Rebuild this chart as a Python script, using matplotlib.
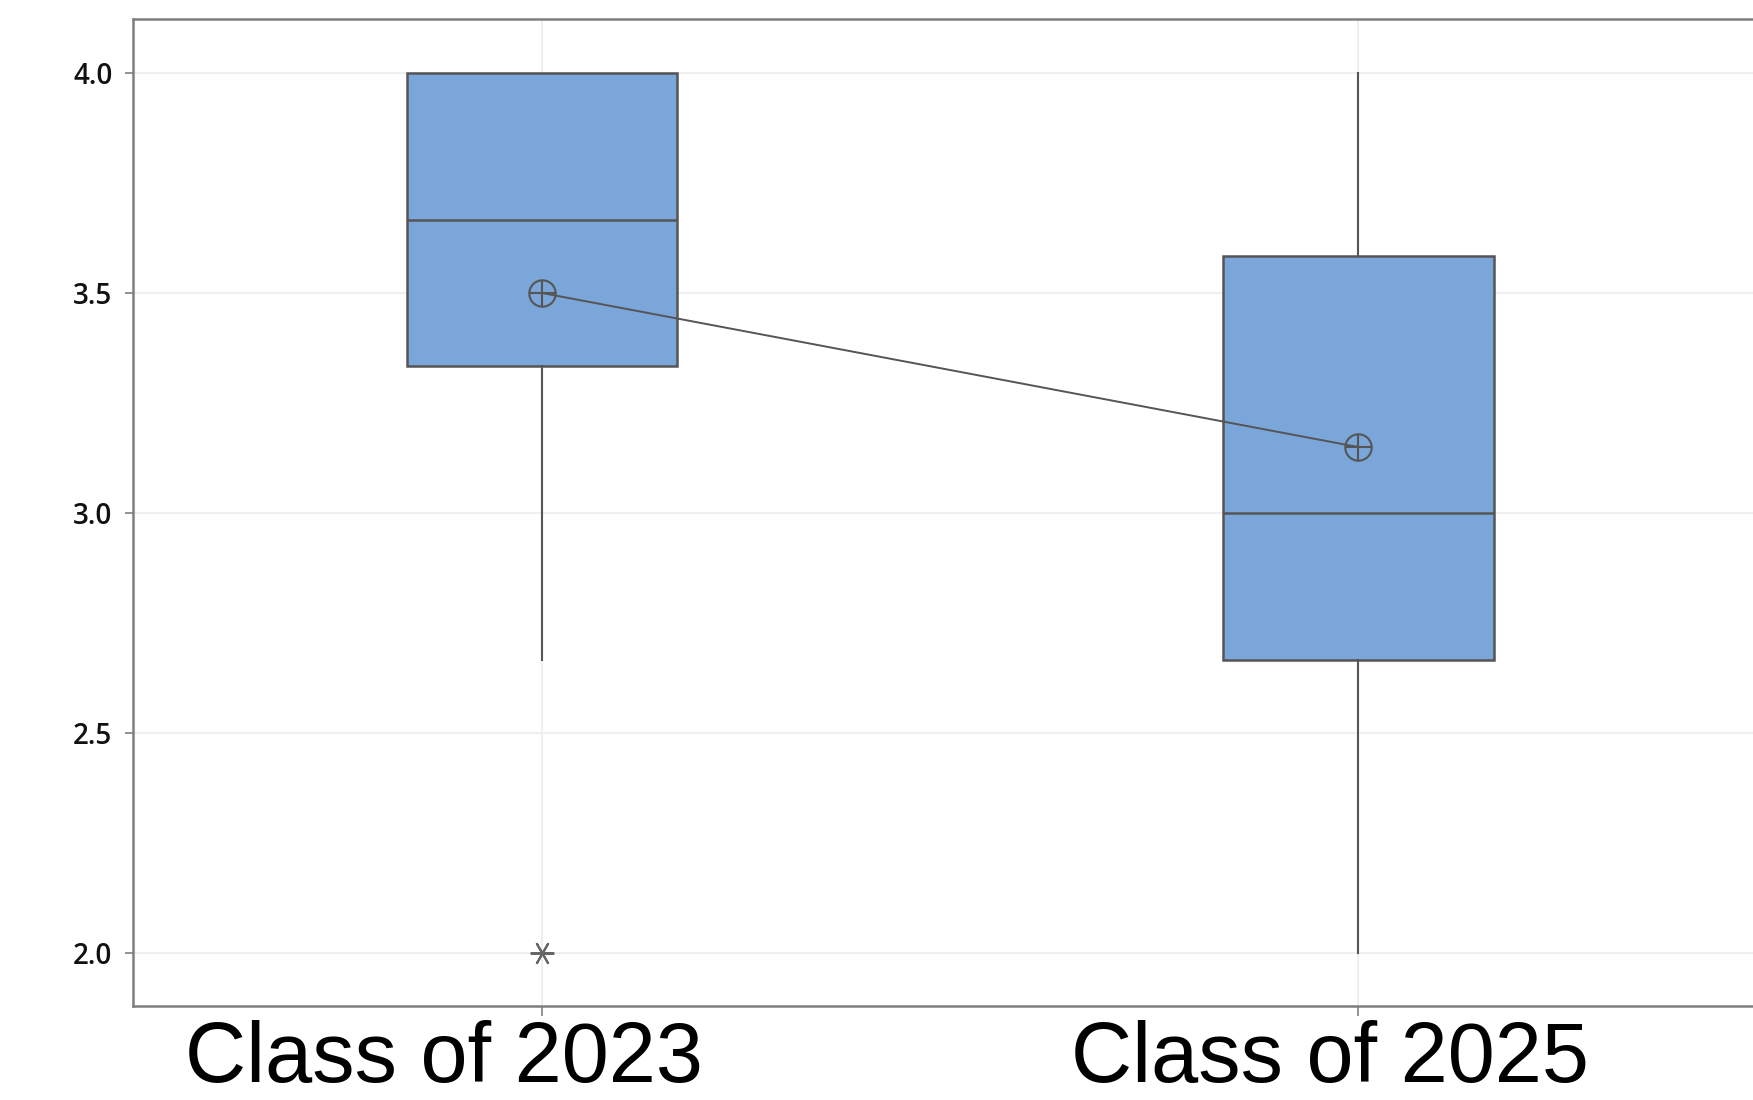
import matplotlib
matplotlib.use("Agg")
import matplotlib.pyplot as plt
import matplotlib.transforms as mtransforms
import numpy as np

# box plot summary
groups = ["Class of 2023", "Class of 2025"]
q1 = [3.333, 2.667]
median = [3.667, 3.0]
q3 = [4.0, 3.583]
whisker_low = [2.667, 2.0]
whisker_high = [4.0, 4.0]
means = [3.5, 3.15]
outliers = [[2.0], []]
y_ticks = [2.0, 2.5, 3.0, 3.5, 4.0]

box_face = "#7ba6d9"
line_col = "#555555"
spine_col = "#7f7f7f"
grid_col = "#efefef"

fig = plt.figure(figsize=(17.53, 11), dpi=100)
ax = fig.add_axes([0.0756, 0.08545, 0.9244, 0.89727])

positions = np.arange(len(groups))
stats = []
for i in range(len(groups)):
    stats.append({
        "med": median[i], "q1": q1[i], "q3": q3[i],
        "whislo": whisker_low[i], "whishi": whisker_high[i],
        "fliers": outliers[i], "label": groups[i],
    })

ax.bxp(stats, positions=positions, widths=0.332, patch_artist=True,
       showcaps=False, showfliers=True,
       boxprops=dict(facecolor=box_face, edgecolor=line_col, linewidth=1.8),
       medianprops=dict(color=line_col, linewidth=1.8),
       whiskerprops=dict(color=line_col, linewidth=1.5),
       flierprops=dict(marker=(6, 2, 90), markersize=17, markeredgecolor="#666666",
                       markeredgewidth=1.5, linestyle="none"),
       zorder=3)

# mean connect line with circled-plus symbol
ax.plot(positions, means, color=line_col, linewidth=1.4, zorder=4)
ax.plot(positions, means, linestyle="none", marker="o", markersize=19,
        markerfacecolor="none", markeredgecolor=line_col, markeredgewidth=1.5, zorder=5)
ax.plot(positions, means, linestyle="none", marker="+", markersize=19,
        markeredgecolor=line_col, markeredgewidth=1.5, zorder=5)

ax.set_xlim(-0.5018, 1.484)
ax.set_ylim(1.8795, 4.1227)
ax.set_yticks(y_ticks)
ax.set_yticklabels(["%.1f" % v for v in y_ticks])
ax.set_xticks(positions)
ax.set_xticklabels([])

ax.grid(True, color=grid_col, linewidth=1.5, zorder=0)
ax.set_axisbelow(True)

for side in ["left", "top", "bottom"]:
    ax.spines[side].set_color(spine_col)
    ax.spines[side].set_linewidth(1.8)
ax.spines["right"].set_visible(False)

ax.tick_params(axis="y", length=6, width=1.2, color=spine_col, pad=8.5,
               labelsize=20, labelcolor="#111111")
ax.tick_params(axis="x", length=7.5, width=1.2, color=spine_col)
for lab in ax.get_yticklabels():
    lab.set_fontfamily(["Open Sans", "DejaVu Sans"])
    lab.set_fontweight("semibold")

# category labels sit a bit left of their ticks in the original
label_shift_px = [-98, -28]
for i, name in enumerate(groups):
    tr = mtransforms.blended_transform_factory(ax.transData, fig.transFigure)
    tr = tr + mtransforms.ScaledTranslation(label_shift_px[i] / 100.0, 0, fig.dpi_scale_trans)
    ax.text(positions[i], 0.0165, name, transform=tr, ha="center", va="baseline",
            fontsize=61, family=["Liberation Sans", "DejaVu Sans"], color="black",
            clip_on=False)

fig.savefig("out.png", dpi=100)
